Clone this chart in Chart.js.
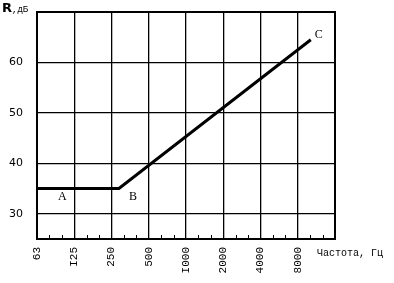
<!DOCTYPE html>
<html>
<head>
<meta charset="utf-8">
<script src="https://cdn.jsdelivr.net/npm/chart.js@4"></script>
<style>
  html, body { margin: 0; padding: 0; background: #fff; }
  #wrap { width: 394px; height: 283px; }
</style>
</head>
<body>
<div id="wrap"><canvas id="chart" width="394" height="283"></canvas></div>
<script>
// octave bands along the x axis
var freqLabels = ['63', 'I25', '250', '500', 'I000', '2000', '4000', '8000'];
// R values, dB ticks that carry a label
var dbLabels = [30, 40, 50, 60];
// the curve A-B-C (x in octaves from 63 Hz, y in dB)
var pointNames = ['A', 'B', 'C'];
var curveX = [0, 2.2, 7.35];
var curveY = [35, 35, 64.5];

var pts = [];
for (var i = 0; i < curveX.length; i++) {
  pts.push({x: curveX[i], y: curveY[i]});
}

// frame, minor ticks and texts
var extras = {
  id: 'extras',
  afterDraw: function(chart) {
    var ctx = chart.ctx;
    var a = chart.chartArea;
    var xs = chart.scales.x;
    ctx.save();
    ctx.strokeStyle = '#000';
    ctx.lineWidth = 2;
    ctx.strokeRect(a.left, a.top, a.right - a.left, a.bottom - a.top);

    // third-octave ticks on the bottom edge
    ctx.lineWidth = 1;
    for (var o = 0; o < 8; o++) {
      for (var k = 1; k < 3; k++) {
        var px = Math.round(xs.getPixelForValue(o + k / 3)) + 0.5;
        ctx.beginPath();
        ctx.moveTo(px, a.bottom);
        ctx.lineTo(px, a.bottom - 4);
        ctx.stroke();
      }
    }

    ctx.fillStyle = '#000';
    ctx.textBaseline = 'middle';
    // point letters
    var meta = chart.getDatasetMeta(0);
    var off = [[21, 8], [10, 8], [4, -5]];
    ctx.font = '12px "Liberation Serif"';
    ctx.textAlign = 'left';
    for (var j = 0; j < meta.data.length; j++) {
      ctx.fillText(pointNames[j], meta.data[j].x + off[j][0], meta.data[j].y + off[j][1]);
    }

    // axis titles
    ctx.font = 'bold 13px "DejaVu Sans"';
    ctx.fillText('R', 2, 9);
    ctx.font = '9px "Liberation Mono"';
    ctx.fillText(',дБ', 12, 10);
    ctx.font = '10px "Liberation Mono"';
    ctx.fillText('Частота, Гц', 317, 253);
    ctx.restore();
  }
};

new Chart(document.getElementById('chart').getContext('2d'), {
  type: 'line',
  data: {
    datasets: [{
      data: pts,
      borderColor: '#000',
      borderWidth: 3,
      pointRadius: 0,
      tension: 0,
      fill: false
    }]
  },
  options: {
    responsive: false,
    animation: false,
    events: [],
    layout: { padding: { left: 0, top: 12, right: 59, bottom: 0 } },
    plugins: { legend: { display: false }, tooltip: { enabled: false } },
    scales: {
      x: {
        type: 'linear',
        min: 0,
        max: 8,
        afterBuildTicks: function(s) {
          s.ticks = [];
          for (var i = 0; i <= 8; i++) s.ticks.push({value: i});
        },
        afterFit: function(s) { s.height = 44; s.paddingLeft = 0; s.paddingRight = 0; },
        grid: { color: '#000', lineWidth: 1.3, drawTicks: false },
        border: { display: false },
        ticks: {
          autoSkip: false,
          minRotation: 90,
          maxRotation: 90,
          padding: 8,
          color: '#000',
          font: { family: 'Liberation Mono', size: 11 },
          callback: function(v) { return freqLabels[v] !== undefined ? freqLabels[v] : ''; }
        }
      },
      y: {
        min: 25,
        max: 70,
        afterBuildTicks: function(s) {
          s.ticks = [{value: 25}, {value: 30}, {value: 40}, {value: 50}, {value: 60}, {value: 70}];
        },
        afterFit: function(s) { s.width = 37; s.paddingTop = 0; s.paddingBottom = 0; },
        grid: { color: '#000', lineWidth: 1.3, drawTicks: false },
        border: { display: false },
        ticks: {
          padding: 14,
          color: '#000',
          font: { family: 'DejaVu Sans', size: 11 },
          callback: function(v) { return dbLabels.indexOf(v) >= 0 ? String(v) : ''; }
        }
      }
    }
  },
  plugins: [extras]
});
</script>
</body>
</html>
